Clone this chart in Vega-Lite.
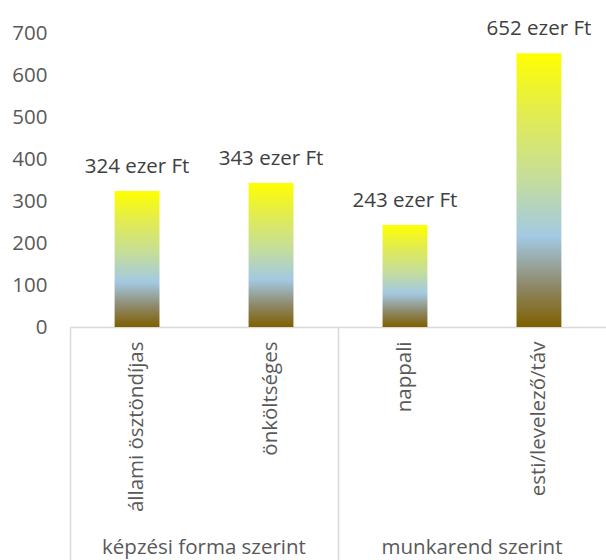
{
  "$schema": "https://vega.github.io/schema/vega-lite/v6.json",
  "width": 536,
  "height": 294,
  "autosize": {"type": "none"},
  "padding": {"left": 70, "top": 33, "right": 0, "bottom": 233},
  "background": "white",
  "config": {
    "view": {"stroke": null},
    "font": "Open Sans"
  },
  "data": {
    "values": [
      {"cat": "állami ösztöndíjas", "group": "képzési forma szerint", "value": 324, "label": "324 ezer Ft"},
      {"cat": "önköltséges", "group": "képzési forma szerint", "value": 343, "label": "343 ezer Ft"},
      {"cat": "nappali", "group": "munkarend szerint", "value": 243, "label": "243 ezer Ft"},
      {"cat": "esti/levelező/táv", "group": "munkarend szerint", "value": 652, "label": "652 ezer Ft"}
    ]
  },
  "layer": [
    {
      "encoding": {
        "x": {
          "field": "cat", "type": "nominal", "sort": null,
          "scale": {"paddingInner": 0.665, "paddingOuter": 0.333},
          "axis": {
            "title": null, "orient": "bottom", "labelAngle": -90, "labelPadding": 14,
            "labelFont": "Open Sans", "labelFontSize": 20.5, "labelColor": "#595959", "labelLimit": 0,
            "ticks": false, "domainColor": "#D9D9D9", "domainWidth": 1.5, "labelAlign": "right", "labelBaseline": "middle"
          }
        },
        "y": {
          "field": "value", "type": "quantitative",
          "scale": {"domain": [0, 700], "nice": false},
          "axis": {
            "title": null, "values": [0, 100, 200, 300, 400, 500, 600, 700],
            "labelFont": "Open Sans", "labelFontSize": 20.5, "labelColor": "#595959",
            "domain": false, "ticks": false, "grid": false, "labelPadding": 23
          }
        }
      },
      "layer": [
        {
          "mark": {
            "type": "bar",
            "color": {
              "gradient": "linear", "x1": 0, "y1": 1, "x2": 0, "y2": 0,
              "stops": [
                {"offset": 0, "color": "#7F6000"},
                {"offset": 0.15, "color": "#8E8868"},
                {"offset": 0.33, "color": "#A3C9E3"},
                {"offset": 0.55, "color": "#C6DE98"},
                {"offset": 0.78, "color": "#E2EC50"},
                {"offset": 1, "color": "#FFFF00"}
              ]
            }
          }
        },
        {
          "mark": {"type": "text", "baseline": "alphabetic", "dy": -18, "fontSize": 20.5, "color": "#404040"},
          "encoding": {"text": {"field": "label"}}
        }
      ]
    },
    {
      "mark": {"type": "rule", "opacity": 0},
      "encoding": {
        "x": {
          "field": "group", "type": "nominal", "sort": null,
          "scale": {"type": "band", "paddingInner": 0, "paddingOuter": 0},
          "axis": {
            "title": null, "orient": "bottom", "labelAngle": 0, "bandPosition": 0,
            "labelFont": "Open Sans", "labelFontSize": 20.5, "labelColor": "#595959", "labelLimit": 0,
            "tickSize": 233, "tickColor": "#D9D9D9", "tickWidth": 1.5, "domain": false,
            "labelPadding": -23, "labelBaseline": "top", "labelAlign": "center"
          }
        }
      }
    }
  ],
  "resolve": {"scale": {"x": "independent"}, "axis": {"x": "independent"}}
}
